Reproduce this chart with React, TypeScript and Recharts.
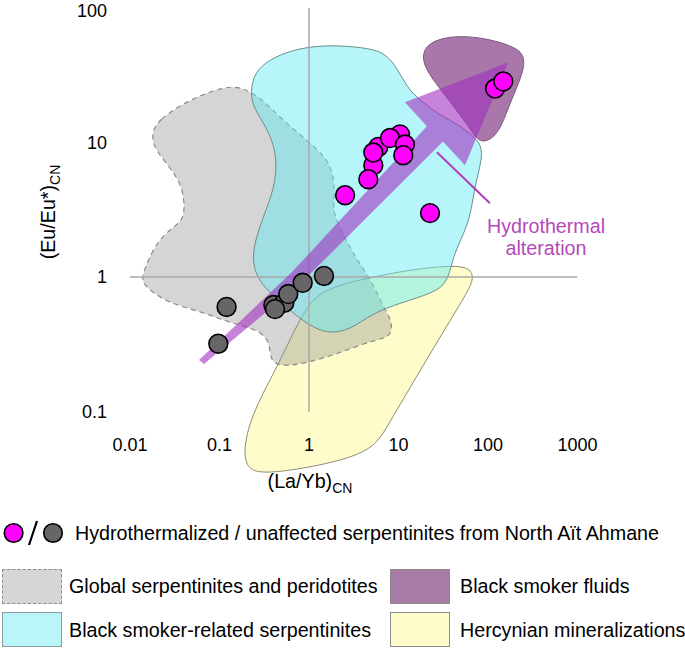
import { Scatter, ScatterChart, XAxis, YAxis } from 'recharts'

type Pair = [number, number]

const xTicks = [0.01, 0.1, 1, 10, 100, 1000]
const yTicks = [0.1, 1, 10, 100]

// (La/Yb)CN, (Eu/Eu*)CN
const hydrothermalized: Pair[] = [
  [10.4, 11.5], [5.95, 9.28], [8.04, 10.8], [11.8, 9.67], [11.3, 8.05], [5.23, 6.78],
  [5.23, 8.43], [4.6, 5.34], [2.53, 4.06], [22.5, 2.99], [120, 25.2], [148, 28.5],
]
const unaffected: Pair[] = [
  [0.4, 0.62], [0.53, 0.645], [0.417, 0.578], [0.587, 0.748], [0.85, 0.907], [1.47, 1.02],
  [0.12, 0.6], [0.097, 0.32],
]

// field outlines
const globalSerpentinites: Pair[] = [
  [0.0176, 11.9], [0.0206, 14.6], [0.0434, 20.6], [0.121, 26.6], [0.183, 25.3], [0.219, 23.6],
  [0.284, 21.7], [0.512, 14.6], [0.95, 10.4], [1.854, 7.02], [1.952, 3.93], [1.807, 2.99],
  [2.87, 1.67], [3.44, 1.34], [5.19, 0.903], [6.71, 0.599], [8.46, 0.48], [8.46, 0.3585],
  [5.19, 0.3405], [2.22, 0.273], [0.95, 0.23], [0.474, 0.215], [0.367, 0.242], [0.367, 0.324],
  [0.284, 0.404], [0.131, 0.4555], [0.0655, 0.55], [0.0259, 0.641], [0.014, 0.872], [0.0136, 1.0],
  [0.0159, 1.34], [0.0216, 1.98], [0.0362, 2.52], [0.0412, 2.99], [0.0391, 4.66], [0.028, 6.55],
  [0.0181, 9.23],
]
const blackSmokerSerpentinites: Pair[] = [
  [0.237, 31.6], [0.322, 39.4], [0.539, 46.8], [1.026, 51.9], [2.22, 52.8], [4.8, 50.1],
  [7.07, 46.0], [9.62, 36.2], [12.4, 25.7], [17.4, 20.6], [29.1, 15.9], [48.6, 13.4],
  [71.6, 10.9], [87.9, 9.08], [81.4, 6.55], [69.8, 4.43], [62.9, 2.65], [46.2, 1.73],
  [39.6, 1.29], [34.8, 0.903], [24.3, 0.761], [10.4, 0.641], [5.19, 0.541], [2.87, 0.404],
  [1.589, 0.3775], [0.95, 0.448], [0.568, 0.589], [0.306, 0.843], [0.237, 1.166], [0.237, 1.67],
  [0.306, 2.79], [0.417, 4.66], [0.439, 7.78], [0.367, 11.7], [0.262, 16.5], [0.219, 21.7],
]
const blackSmokerFluids: Pair[] = [
  [18.8, 48.4], [24.3, 57.5], [45.0, 62.6], [97.5, 59.5], [211, 51.0], [259, 43.0],
  [246, 32.7], [176, 19.6], [136, 12.3], [105, 10.4], [81.4, 10.05], [68.0, 11.7],
  [45.0, 17.4], [24.3, 29.0], [18.8, 38.8],
]
const hercynian: Pair[] = [
  [1.327, 0.787], [3.44, 0.95], [12.4, 1.127], [40.6, 1.228], [62.9, 1.166], [69.8, 0.983],
  [58.3, 0.761], [29.1, 0.3585], [12.4, 0.1377], [7.44, 0.077], [5.19, 0.052], [1.854, 0.0416],
  [0.512, 0.0357], [0.262, 0.0351], [0.203, 0.0389], [0.188, 0.0494], [0.203, 0.0695],
  [0.237, 0.0945], [0.306, 0.1377], [0.439, 0.215], [0.646, 0.371], [0.902, 0.569],
]
const alterationArrow: Pair[] = [
  [0.059, 0.242], [0.646, 1.089], [20.8, 13.2], [11.8, 19.9], [167, 39.4], [55.3, 6.78],
  [31.4, 10.2], [0.835, 0.918], [0.0671, 0.226],
]
const arrowPointer: Pair[] = [[26.9, 8.47], [105, 3.54]]
const verticalRef: Pair[] = [[1, 0.1], [1, 100]]
const horizontalRef: Pair[] = [[0.01, 1], [1000, 1]]

const toPts = (pairs: Pair[]) => pairs.map(([x, y]) => ({ x, y }))

const FONT = '"Liberation Sans", Arial, Helvetica, sans-serif'
const hidden = () => <g />

function outline(key: string, data: Pair[], line: Record<string, unknown>, joint: any = 'basisClosed') {
  return (
    <Scatter
      key={key}
      data={toPts(data)}
      isAnimationActive={false}
      shape={hidden}
      line={line}
      lineType="joint"
      lineJointType={joint}
      legendType="none"
    />
  )
}

function dots(key: string, data: Pair[], fill: string) {
  return (
    <Scatter
      key={key}
      data={toPts(data)}
      isAnimationActive={false}
      shape={(p: any) => <circle cx={p.cx} cy={p.cy} r={9.4} fill={fill} stroke="#000" strokeWidth={1.6} />}
    />
  )
}

function XTick({ x, y, payload }: any) {
  return (
    <text x={x} y={y} dy={-31} textAnchor="middle" fontSize={18} fill="#000" fontFamily={FONT}>
      {payload.value}
    </text>
  )
}

const legendText: React.CSSProperties = { position: 'absolute', fontSize: 19.7, lineHeight: '22px', whiteSpace: 'nowrap' }
const box = (left: number, top: number, bg: string, border: string): React.CSSProperties => ({
  position: 'absolute', left, top, width: 58, height: 33, background: bg, border,
})

export default function App() {
  return (
    <div style={{ position: 'relative', width: 685, height: 649, fontFamily: FONT, color: '#000' }}>
      <style>{'body{margin:0}'}</style>
      <ScatterChart width={685} height={500} margin={{ top: 8, right: 107.5, bottom: 8, left: 70 }}>
        <XAxis
          dataKey="x"
          type="number"
          scale="log"
          domain={[0.01, 1000]}
          ticks={xTicks}
          allowDataOverflow
          axisLine={false}
          tickLine={false}
          tickSize={0}
          tickMargin={0}
          height={10}
          tick={XTick}
        />
        <YAxis
          dataKey="y"
          type="number"
          scale="log"
          domain={[0.03, 100]}
          ticks={yTicks}
          allowDataOverflow
          axisLine={false}
          tickLine={false}
          tickSize={0}
          tickMargin={23}
          width={60}
          tick={{ fontSize: 18, fill: '#000', fontFamily: FONT }}
        />
        {outline('hercynian', hercynian, { fill: '#fefccb', fillOpacity: 1, stroke: '#8c8c70', strokeWidth: 1 })}
        {outline('global', globalSerpentinites, {
          fill: '#8d8d8d', fillOpacity: 0.37, stroke: '#8a8a8a', strokeWidth: 1.2, strokeDasharray: '5 4',
        })}
        {outline('smokerSerp', blackSmokerSerpentinites, { fill: '#5eeaf4', fillOpacity: 0.45, stroke: '#6d8c8c', strokeWidth: 1 })}
        {outline('fluids', blackSmokerFluids, { fill: '#7b2e7b', fillOpacity: 0.65, stroke: '#7a5a7a', strokeWidth: 1 })}
        {outline('vref', verticalRef, { stroke: '#aaaaaa', strokeWidth: 1.5 }, 'linear')}
        {outline('href', horizontalRef, { stroke: '#aaaaaa', strokeWidth: 1.5 }, 'linear')}
        {outline('arrow', alterationArrow, { fill: '#a030c0', fillOpacity: 0.6, stroke: 'none' }, 'linearClosed')}
        {outline('pointer', arrowPointer, { stroke: '#b040b8', strokeWidth: 2 }, 'linear')}
        {dots('unaffected', unaffected, '#666666')}
        {dots('hydro', hydrothermalized, '#ff00ff')}
      </ScatterChart>

      <div style={{ position: 'absolute', left: 546, top: 215, transform: 'translateX(-50%)', color: '#b449b9', fontSize: 19.7, lineHeight: '22px', textAlign: 'center' }}>
        Hydrothermal
        <br />
        alteration
      </div>

      <div style={{ position: 'absolute', left: 50, top: 212, transform: 'translate(-50%, -50%) rotate(-90deg)', fontSize: 19.7, whiteSpace: 'nowrap' }}>
        (Eu/Eu*)<sub style={{ fontSize: 14 }}>CN</sub>
      </div>
      <div style={{ position: 'absolute', left: 310, top: 483, transform: 'translate(-50%, -50%)', fontSize: 19.7, whiteSpace: 'nowrap' }}>
        (La/Yb)<sub style={{ fontSize: 14 }}>CN</sub>
      </div>

      <svg style={{ position: 'absolute', left: 0, top: 518 }} width={70} height={30}>
        <circle cx={13.6} cy={15} r={9.3} fill="#ff00ff" stroke="#000" strokeWidth={1.6} />
        <line x1={29} y1={27} x2={37} y2={3} stroke="#000" strokeWidth={2.2} />
        <circle cx={53} cy={15} r={9.3} fill="#666666" stroke="#000" strokeWidth={1.6} />
      </svg>
      <div style={{ ...legendText, left: 75, top: 522 }}>Hydrothermalized / unaffected serpentinites from North Aït Ahmane</div>

      <div style={box(2, 569, '#d6d6d6', '1px dashed #8a8a8a')} />
      <div style={{ ...legendText, left: 69, top: 575 }}>Global serpentinites and peridotites</div>
      <div style={box(390, 569, '#a97ba7', '1px solid #8a8a8a')} />
      <div style={{ ...legendText, left: 460, top: 575 }}>Black smoker fluids</div>

      <div style={box(2, 612, '#b9f5f9', '1px solid #8a9a9a')} />
      <div style={{ ...legendText, left: 69, top: 619 }}>Black smoker-related serpentinites</div>
      <div style={box(390, 612, '#fefccb', '1px solid #8a8a8a')} />
      <div style={{ ...legendText, left: 460, top: 619 }}>Hercynian mineralizations</div>
    </div>
  )
}
